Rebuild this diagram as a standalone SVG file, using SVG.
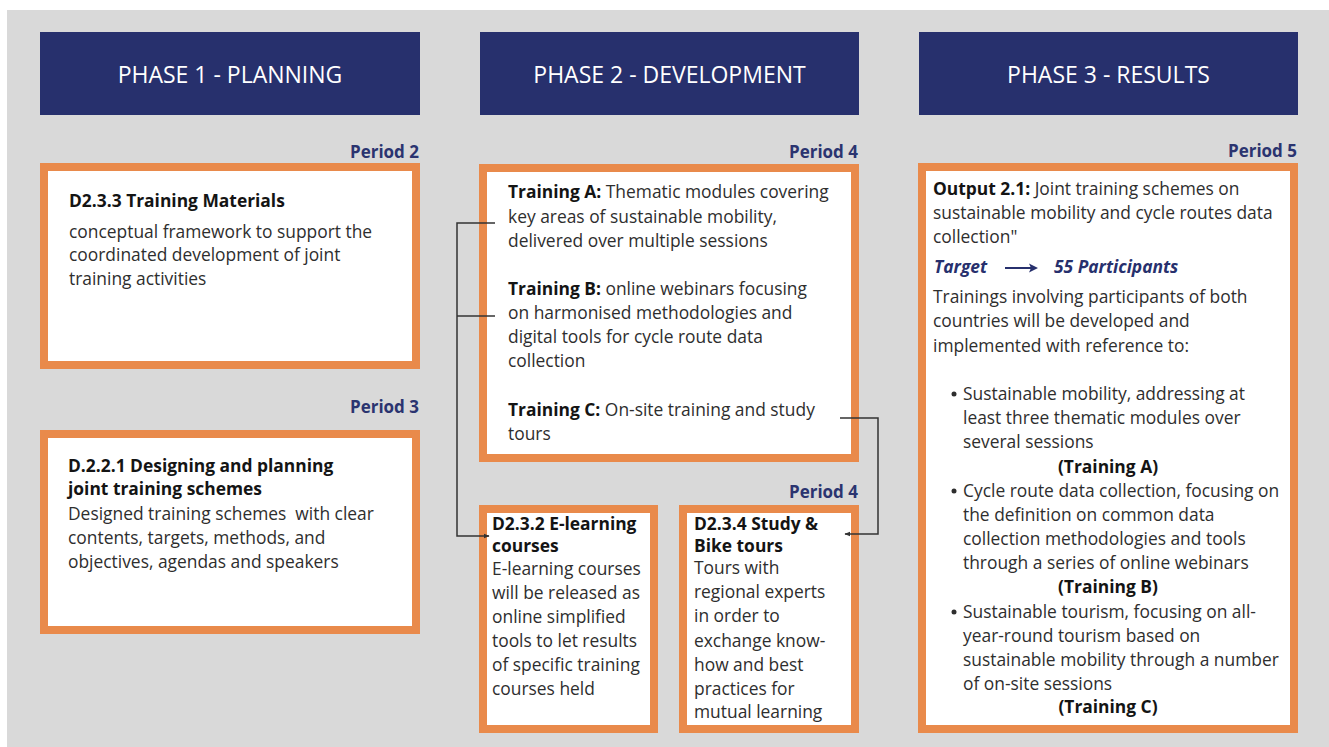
<svg xmlns="http://www.w3.org/2000/svg" width="1329" height="747" viewBox="0 0 1329 747">
<defs>
<style>
.hdr{fill:#27306d}
.hdrt{fill:#ffffff;font-family:"Open Sans","Liberation Sans",sans-serif;font-size:23px;font-weight:400;text-anchor:middle}
.box{fill:#ffffff;stroke:#e98a4b;stroke-width:8}
.per{fill:#2b3470;font-family:"Open Sans","Liberation Sans",sans-serif;font-size:17px;font-weight:700;text-anchor:end}
.t{fill:#2e2e2e;font-family:"Open Sans","Liberation Sans",sans-serif;font-size:17.4px}
.b{fill:#141414;font-weight:700}
.ttl{fill:#141414;font-family:"Open Sans","Liberation Sans",sans-serif;font-size:17.4px;font-weight:700}
.tg{fill:#27306d;font-family:"Open Sans","Liberation Sans",sans-serif;font-size:17.4px;font-weight:700;font-style:italic}
.c{text-anchor:middle}
.conn{fill:none;stroke:#333333;stroke-width:1.5}
</style>
<marker id="ah" viewBox="0 0 10 10" refX="9" refY="5" markerWidth="6" markerHeight="6" orient="auto" markerUnits="userSpaceOnUse">
<path d="M0,1 L10,5 L0,9 z" fill="#333333"/>
</marker>
</defs>
<rect x="7" y="10" width="1322" height="737" fill="#d9d9d9"/>

<g id="phase1">
<rect class="hdr" x="40" y="32" width="380" height="83"/>
<text class="hdrt" x="230" y="83">PHASE 1 - PLANNING</text>
</g>
<g id="phase2">
<rect class="hdr" x="480" y="32" width="379" height="83"/>
<text class="hdrt" x="669.5" y="83">PHASE 2 - DEVELOPMENT</text>
</g>
<g id="phase3">
<rect class="hdr" x="919" y="32" width="379" height="83"/>
<text class="hdrt" x="1108.5" y="83">PHASE 3 - RESULTS</text>
</g>

<g id="d233">
<text class="per" x="419" y="158">Period 2</text>
<rect class="box" x="44" y="167" width="372" height="198"/>
<text class="ttl" x="69" y="207">D2.3.3 Training Materials</text>
<text class="t" x="69" y="238">conceptual framework to support the</text>
<text class="t" x="69" y="261">coordinated development of joint</text>
<text class="t" x="69" y="285">training activities</text>
</g>

<g id="d2221">
<text class="per" x="419" y="413">Period 3</text>
<rect class="box" x="44" y="434" width="372" height="196"/>
<text class="ttl" x="68" y="472">D.2.2.1 Designing and planning</text>
<text class="ttl" x="68" y="495">joint training schemes</text>
<text class="t" x="68" y="520" xml:space="preserve">Designed training schemes  with clear</text>
<text class="t" x="68" y="544">contents, targets, methods, and</text>
<text class="t" x="68" y="568">objectives, agendas and speakers</text>
</g>

<g id="trainings">
<text class="per" x="858" y="158">Period 4</text>
<rect class="box" x="483" y="168" width="372" height="290"/>
<text class="t" x="508" y="198"><tspan class="b">Training A:</tspan> Thematic modules covering</text>
<text class="t" x="508" y="223">key areas of sustainable mobility,</text>
<text class="t" x="508" y="247">delivered over multiple sessions</text>
<text class="t" x="508" y="295"><tspan class="b">Training B:</tspan> online webinars focusing</text>
<text class="t" x="508" y="319">on harmonised methodologies and</text>
<text class="t" x="508" y="343">digital tools for cycle route data</text>
<text class="t" x="508" y="367">collection</text>
<text class="t" x="508" y="416"><tspan class="b">Training C:</tspan> On-site training and study</text>
<text class="t" x="508" y="440">tours</text>
</g>

<g id="d232">
<rect class="box" x="483" y="509" width="171" height="220"/>
<text class="ttl" x="492" y="530">D2.3.2 E-learning</text>
<text class="ttl" x="492" y="552">courses</text>
<text class="t" x="492" y="575">E-learning courses</text>
<text class="t" x="492" y="599">will be released as</text>
<text class="t" x="492" y="623">online simplified</text>
<text class="t" x="492" y="647">tools to let results</text>
<text class="t" x="492" y="671">of specific training</text>
<text class="t" x="492" y="695">courses held</text>
</g>

<g id="d234">
<text class="per" x="858" y="498">Period 4</text>
<rect class="box" x="683" y="509" width="172" height="220"/>
<text class="ttl" x="694" y="530">D2.3.4 Study &amp;</text>
<text class="ttl" x="694" y="552">Bike tours</text>
<text class="t" x="694" y="574">Tours with</text>
<text class="t" x="694" y="598">regional experts</text>
<text class="t" x="694" y="622">in order to</text>
<text class="t" x="694" y="647">exchange know-</text>
<text class="t" x="694" y="671">how and best</text>
<text class="t" x="694" y="695">practices for</text>
<text class="t" x="694" y="718">mutual learning</text>
</g>

<g id="output21">
<text class="per" x="1297" y="157">Period 5</text>
<rect class="box" x="922" y="167" width="372" height="562"/>
<text class="t" x="933" y="195"><tspan class="b">Output 2.1:</tspan> Joint training schemes on</text>
<text class="t" x="933" y="219">sustainable mobility and cycle routes data</text>
<text class="t" x="933" y="243">collection"</text>
<text class="tg" x="934" y="273">Target</text>
<path d="M1005,268 H1034" stroke="#27306d" stroke-width="2" fill="none"/>
<path d="M1038,268 L1029,263.5 L1031,268 L1029,272.5 z" fill="#27306d"/>
<text class="tg" x="1054" y="273">55 Participants</text>
<text class="t" x="933" y="303">Trainings involving participants of both</text>
<text class="t" x="933" y="327">countries will be developed and</text>
<text class="t" x="933" y="352">implemented with reference to:</text>
<circle cx="954" cy="394" r="2.5" fill="#2e2e2e"/>
<text class="t" x="963" y="400">Sustainable mobility, addressing at</text>
<text class="t" x="963" y="424">least three thematic modules over</text>
<text class="t" x="963" y="448">several sessions</text>
<text class="t c b" x="1108" y="473">(Training A)</text>
<circle cx="954" cy="491" r="2.5" fill="#2e2e2e"/>
<text class="t" x="963" y="497">Cycle route data collection, focusing on</text>
<text class="t" x="963" y="521">the definition on common data</text>
<text class="t" x="963" y="545">collection methodologies and tools</text>
<text class="t" x="963" y="569">through a series of online webinars</text>
<text class="t c b" x="1108" y="593">(Training B)</text>
<circle cx="954" cy="612" r="2.5" fill="#2e2e2e"/>
<text class="t" x="963" y="618">Sustainable tourism, focusing on all-</text>
<text class="t" x="963" y="642">year-round tourism based on</text>
<text class="t" x="963" y="666">sustainable mobility through a number</text>
<text class="t" x="963" y="690">of on-site sessions</text>
<text class="t c b" x="1108" y="713">(Training C)</text>
</g>

<g id="connectors">
<path class="conn" d="M495,223 H457 V536 H489" marker-end="url(#ah)"/>
<path class="conn" d="M495,316 H457"/>
<path class="conn" d="M840,418 H878 V534 H845" marker-end="url(#ah)"/>
</g>
</svg>
